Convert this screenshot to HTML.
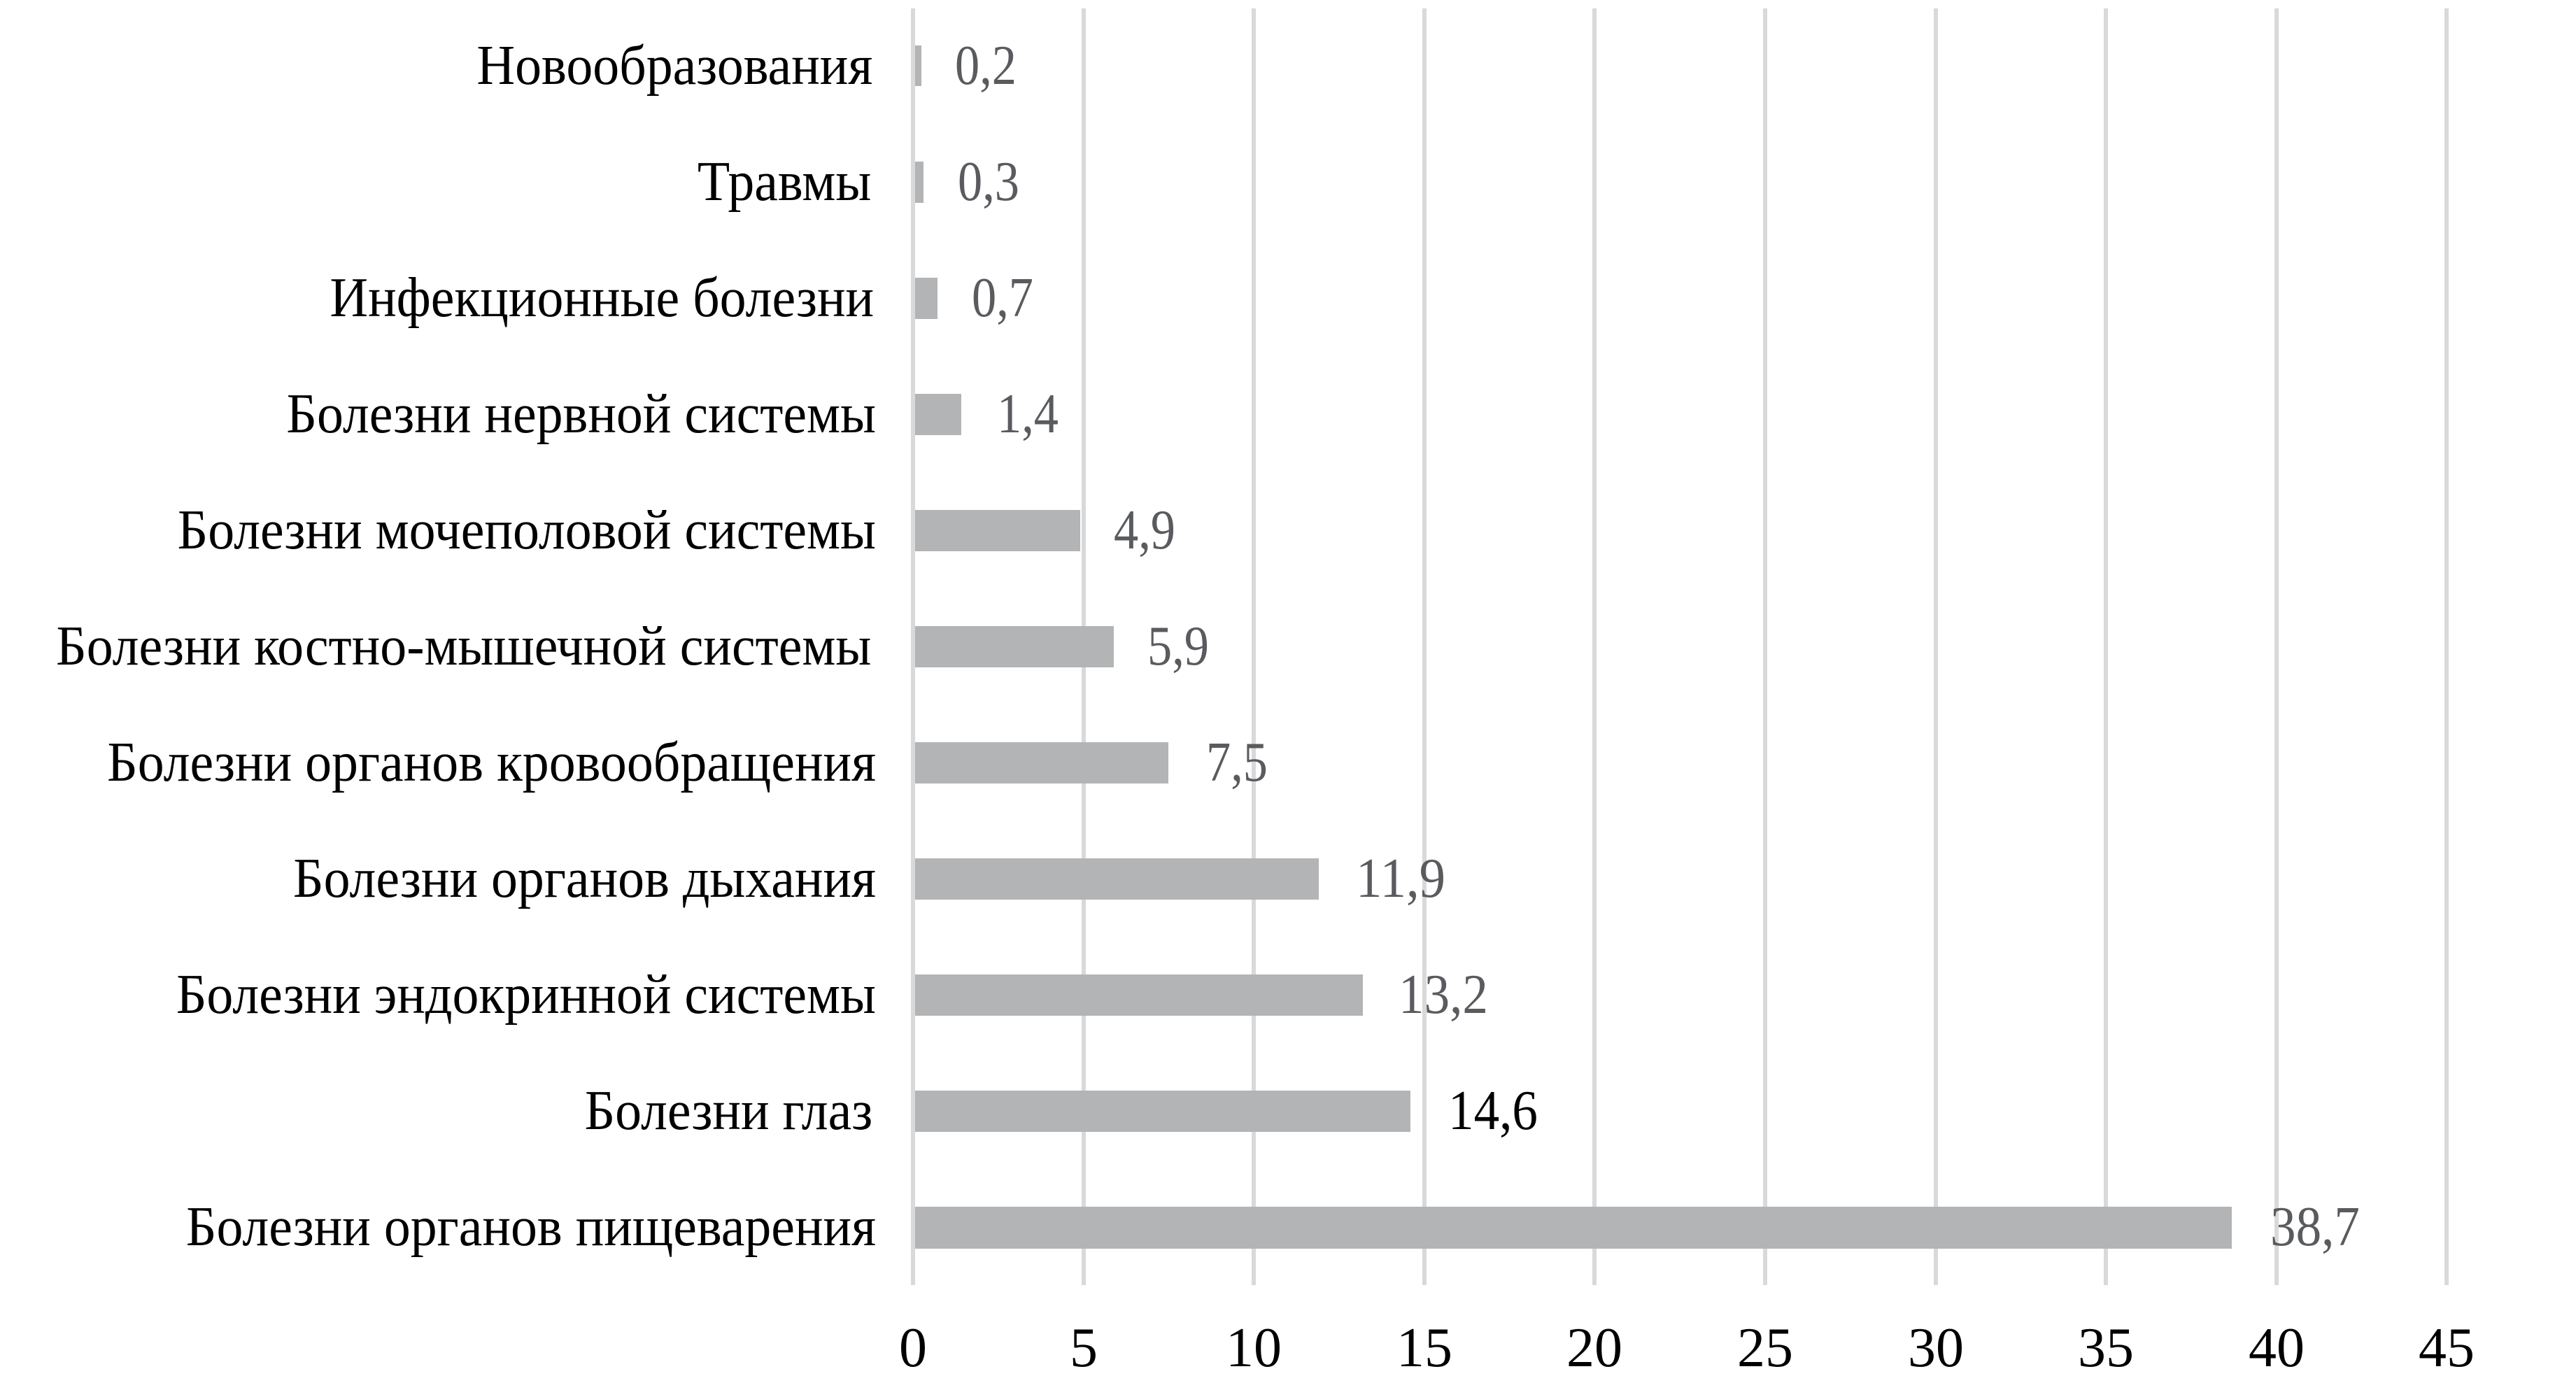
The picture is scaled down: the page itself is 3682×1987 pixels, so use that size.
<!DOCTYPE html>
<html><head><meta charset="utf-8"><style>html,body{margin:0;padding:0;background:#fff}svg{display:block}</style></head>
<body>
<svg width="3682" height="1987" viewBox="0 0 3682 1987" xmlns="http://www.w3.org/2000/svg" font-family="'Liberation Serif', serif" font-size="80">
<g stroke="#d9d9d9" stroke-width="6">
<line x1="1305" y1="12" x2="1305" y2="1837"/>
<line x1="1549" y1="12" x2="1549" y2="1837"/>
<line x1="1792" y1="12" x2="1792" y2="1837"/>
<line x1="2036" y1="12" x2="2036" y2="1837"/>
<line x1="2279" y1="12" x2="2279" y2="1837"/>
<line x1="2523" y1="12" x2="2523" y2="1837"/>
<line x1="2767" y1="12" x2="2767" y2="1837"/>
<line x1="3010" y1="12" x2="3010" y2="1837"/>
<line x1="3254" y1="12" x2="3254" y2="1837"/>
<line x1="3497" y1="12" x2="3497" y2="1837"/>
</g>
<g fill="#b3b4b5">
<rect x="1308" y="65" width="9" height="58"/>
<rect x="1308" y="231" width="12" height="59"/>
<rect x="1308" y="397" width="32" height="59"/>
<rect x="1308" y="563" width="66" height="59"/>
<rect x="1308" y="729" width="236" height="59"/>
<rect x="1308" y="895" width="284" height="59"/>
<rect x="1308" y="1061" width="362" height="59"/>
<rect x="1308" y="1227" width="577" height="59"/>
<rect x="1308" y="1393" width="640" height="59"/>
<rect x="1308" y="1559" width="708" height="59"/>
<rect x="1308" y="1725" width="1882" height="60"/>
</g>
<g text-anchor="end" fill="#000" transform="matrix(0.948 0 0 1 65.1 0)">
<text x="1247" y="120">Новообразования</text>
<text x="1245" y="286">Травмы</text>
<text x="1249" y="452">Инфекционные болезни</text>
<text x="1252" y="618">Болезни нервной системы</text>
<text x="1252" y="784">Болезни мочеполовой системы</text>
<text x="1245" y="950">Болезни костно-мышечной системы</text>
<text x="1252" y="1116">Болезни органов кровообращения</text>
<text x="1252" y="1282">Болезни органов дыхания</text>
<text x="1252" y="1448">Болезни эндокринной системы</text>
<text x="1247" y="1614">Болезни глаз</text>
<text x="1252" y="1780">Болезни органов пищеварения</text>
</g>
<g fill="#595b5e">
<text x="1365" y="120" textLength="88" lengthAdjust="spacingAndGlyphs">0,2</text>
<text x="1369" y="286" textLength="88" lengthAdjust="spacingAndGlyphs">0,3</text>
<text x="1389" y="452" textLength="88" lengthAdjust="spacingAndGlyphs">0,7</text>
<text x="1425" y="618" textLength="88" lengthAdjust="spacingAndGlyphs">1,4</text>
<text x="1592" y="784" textLength="88" lengthAdjust="spacingAndGlyphs">4,9</text>
<text x="1640" y="950" textLength="88" lengthAdjust="spacingAndGlyphs">5,9</text>
<text x="1724" y="1116" textLength="88" lengthAdjust="spacingAndGlyphs">7,5</text>
<text x="1938" y="1282" textLength="128" lengthAdjust="spacingAndGlyphs">11,9</text>
<text x="1999" y="1448" textLength="128" lengthAdjust="spacingAndGlyphs">13,2</text>
<text x="2070" y="1614" fill="#000" textLength="128" lengthAdjust="spacingAndGlyphs">14,6</text>
<text x="3245" y="1780" textLength="128" lengthAdjust="spacingAndGlyphs">38,7</text>
</g>
<g text-anchor="middle" fill="#000">
<text x="1305" y="1953">0</text>
<text x="1549" y="1953">5</text>
<text x="1792" y="1953">10</text>
<text x="2036" y="1953">15</text>
<text x="2279" y="1953">20</text>
<text x="2523" y="1953">25</text>
<text x="2767" y="1953">30</text>
<text x="3010" y="1953">35</text>
<text x="3254" y="1953">40</text>
<text x="3497" y="1953">45</text>
</g>
</svg>
</body></html>
